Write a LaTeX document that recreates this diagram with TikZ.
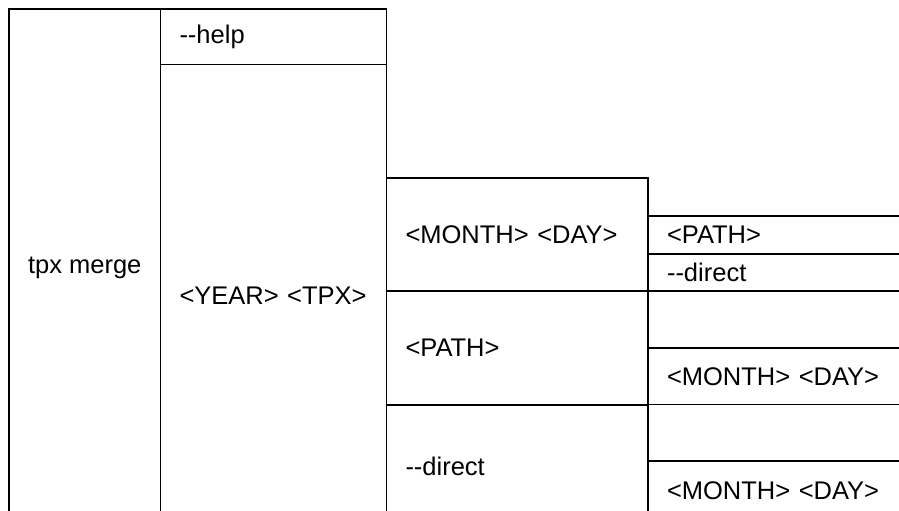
\documentclass[tikz,border=0pt]{standalone}
\usepackage{fontspec}
\setmainfont{Liberation Sans}
\usepackage{tikz}
\usetikzlibrary{positioning}

\begin{document}
\begin{tikzpicture}
[
x=1pt, y=-1pt,
cellnode/.style={rectangle, draw=black, line width=1.8pt, outer sep=0pt, inner ysep=0pt, anchor=north west, font=\fontsize{25.5}{30}\selectfont},
leftcell/.style={cellnode, inner xsep=19pt, align=left, text width=#1},
]
\useasboundingbox (0,0) rectangle (899,511);
\clip (0,0) rectangle (899,511);

%Nodes
\node[cellnode, minimum width=151.5pt, minimum height=518pt] (merge) at (9,9) {tpx merge};

\node[leftcell=188pt, minimum height=55.5pt] (help) at (160.5,9) {-{}-help};
\node[leftcell=188pt, minimum height=462pt]  (year) [below=0pt of help] {<YEAR> <TPX>};

\node[leftcell=223.5pt, minimum height=113pt] (monthday) at (386.5,178) {<MONTH> <DAY>};
\node[leftcell=223.5pt, minimum height=114pt] (path)     [below=0pt of monthday] {<PATH>};
\node[leftcell=223.5pt, minimum height=122pt] (direct)   [below=0pt of path] {-{}-direct};

\node[leftcell=237pt, minimum height=38pt]   (monthday-P)  at (648,216) {<PATH>};
\node[leftcell=237pt, minimum height=37pt]   (monthday-D)  [below=0pt of monthday-P] {-{}-direct};
\node[leftcell=237pt, minimum height=57pt]   (path-E)      [below=0pt of monthday-D] {};
\node[leftcell=237pt, minimum height=56.5pt] (path-MD)     [below=0pt of path-E] {<MONTH> <DAY>};
\node[leftcell=237pt, minimum height=56.5pt] (direct-E)    [below=0pt of path-MD] {};
\node[leftcell=237pt, minimum height=60pt]   (direct-MD)   [below=0pt of direct-E] {<MONTH> <DAY>};

\end{tikzpicture}
\end{document}
